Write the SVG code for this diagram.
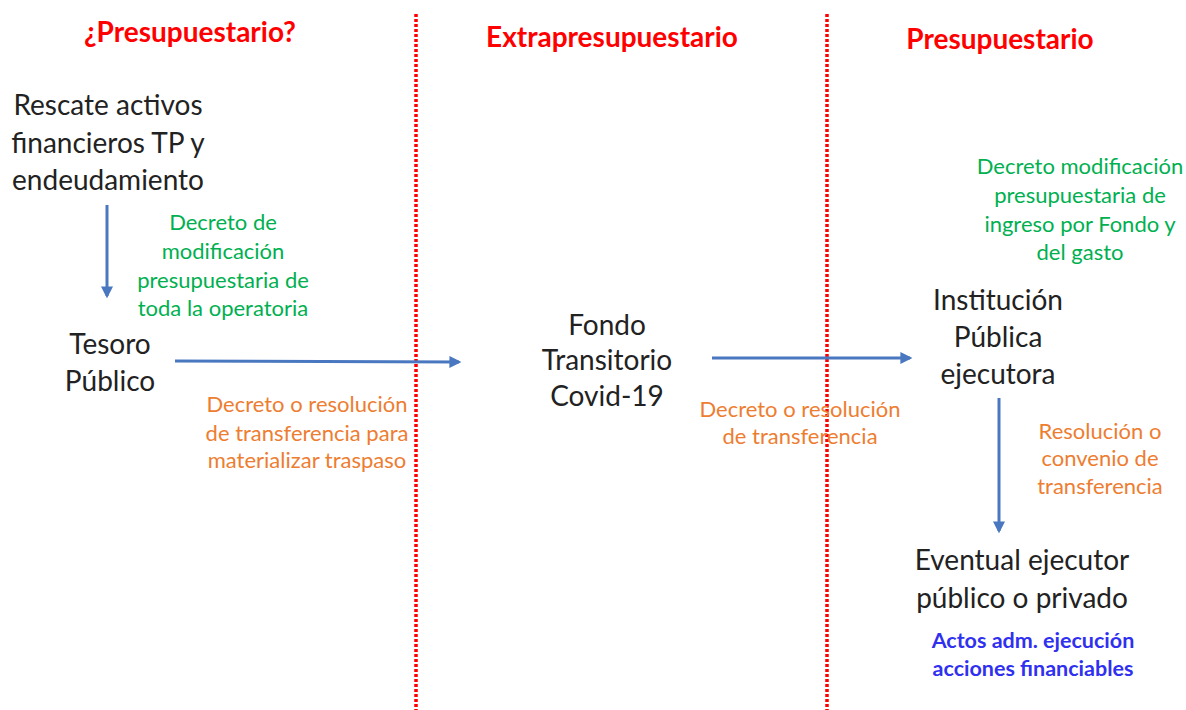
<svg xmlns="http://www.w3.org/2000/svg" width="1186" height="710" viewBox="0 0 1186 710">
<defs>
<style>
text{font-family:Lato,"Open Sans","Liberation Sans",sans-serif;text-anchor:middle}
.h{font-size:28px;font-weight:bold;fill:#ff0000}
.n{font-size:28px;fill:#222}
.g{font-size:22px;fill:#00b050}
.o{font-size:22px;fill:#ed7d31}
.b{font-size:21.5px;font-weight:bold;fill:#3030f0}
.div{stroke:#ff0000;stroke-width:3.5;stroke-dasharray:3 2}
.c{stroke:#4a78c0;stroke-width:3;fill:none;marker-end:url(#ah)}
</style>
<marker id="ah" viewBox="0 0 10 10" refX="8" refY="5" markerWidth="4" markerHeight="4" orient="auto" markerUnits="strokeWidth">
<path d="M0,0 L10,5 L0,10 z" fill="#4a78c0"/>
</marker>
</defs>
<rect width="1186" height="710" fill="#fff"/>
<g id="dividers">
<line class="div" x1="416" y1="14" x2="416" y2="710"/>
<line class="div" x1="827" y1="14" x2="827" y2="710"/>
</g>
<g id="headings">
<text class="h" x="190" y="42">¿Presupuestario?</text>
<text class="h" x="612" y="47">Extrapresupuestario</text>
<text class="h" x="1000" y="49">Presupuestario</text>
</g>
<g id="connectors">
<line class="c" x1="107" y1="205" x2="107" y2="296"/>
<line class="c" x1="175" y1="361" x2="459" y2="362"/>
<line class="c" x1="712" y1="358" x2="910" y2="358"/>
<line class="c" x1="999" y1="398" x2="999" y2="531"/>
</g>
<g id="labels">
<text class="g"><tspan x="223" y="230">Decreto de</tspan><tspan x="223" y="259">modificación</tspan><tspan x="223" y="288">presupuestaria de</tspan><tspan x="223" y="316">toda la operatoria</tspan></text>
<text class="o"><tspan x="307" y="412">Decreto o resolución</tspan><tspan x="307" y="441">de transferencia para</tspan><tspan x="307" y="468">materializar traspaso</tspan></text>
<text class="o"><tspan x="800" y="417">Decreto o resolución</tspan><tspan x="800" y="444">de transferencia</tspan></text>
<text class="g"><tspan x="1080" y="174">Decreto modificación</tspan><tspan x="1080" y="203">presupuestaria de</tspan><tspan x="1080" y="232">ingreso por Fondo y</tspan><tspan x="1080" y="260">del gasto</tspan></text>
<text class="o"><tspan x="1100" y="439">Resolución o</tspan><tspan x="1100" y="466">convenio de</tspan><tspan x="1100" y="494">transferencia</tspan></text>
</g>
<g id="node-rescate">
<text class="n"><tspan x="108" y="115">Rescate activos</tspan><tspan x="108" y="153">financieros TP y</tspan><tspan x="108" y="190">endeudamiento</tspan></text>
</g>
<g id="node-tesoro">
<text class="n"><tspan x="110" y="354">Tesoro</tspan><tspan x="110" y="391">Público</tspan></text>
</g>
<g id="node-fondo">
<text class="n"><tspan x="607" y="335">Fondo</tspan><tspan x="607" y="370">Transitorio</tspan><tspan x="607" y="406">Covid-19</tspan></text>
</g>
<g id="node-institucion">
<text class="n"><tspan x="998" y="310">Institución</tspan><tspan x="998" y="347">Pública</tspan><tspan x="998" y="384">ejecutora</tspan></text>
</g>
<g id="node-eventual">
<text class="n"><tspan x="1022" y="570">Eventual ejecutor</tspan><tspan x="1022" y="608">público o privado</tspan></text>
<text class="b"><tspan x="1033" y="648">Actos adm. ejecución</tspan><tspan x="1033" y="676">acciones financiables</tspan></text>
</g>
</svg>
